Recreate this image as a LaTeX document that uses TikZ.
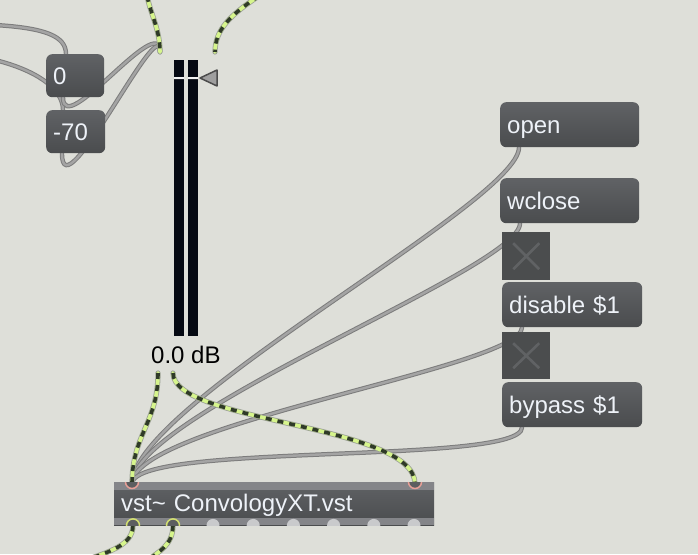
\documentclass[tikz,border=0pt]{standalone}
\usepackage{fontspec}
\usepackage{tikz}
\newfontfamily\maxfont{Liberation Sans}
\usetikzlibrary{calc}
\usetikzlibrary{backgrounds}
\definecolor{bgcol}{HTML}{DEDFD9}
\definecolor{boxtop}{HTML}{606265}
\definecolor{boxbot}{HTML}{4A4C4E}
\definecolor{boxtext}{HTML}{EEF2F8}
\definecolor{togfill}{HTML}{4B4D4E}
\definecolor{togx}{HTML}{606264}
\definecolor{meterblack}{HTML}{060A13}
\definecolor{trimcol}{HTML}{F2F2F2}
\definecolor{vstmid}{HTML}{4A4C4C}
\definecolor{vststrip}{HTML}{848589}
\definecolor{inpink}{HTML}{E8A097}
\definecolor{outlime}{HTML}{D3E070}
\definecolor{outgray}{HTML}{C9CACC}
\definecolor{portfill}{HTML}{5C5E60}
\definecolor{cordfill}{HTML}{A4A4A4}
\definecolor{cordedge}{HTML}{7C7C7C}
\definecolor{siglime}{HTML}{D6F58C}
\definecolor{sigdark}{HTML}{2F3A28}
\definecolor{sigedge}{HTML}{9CA294}
\newcommand\boxfont{\maxfont\fontsize{24}{28}\selectfont}
\tikzset{msgbox/.style = {anchor=north west, rounded corners=6, top color=boxtop, bottom color=boxbot,
                          text=boxtext, font=\boxfont, inner xsep=7, inner ysep=0, minimum height=45,
                          text height=20, text depth=3, align=left, text width=#1}}
\tikzset{togbox/.style = {anchor=north west, fill=togfill, minimum width=48, minimum height=48, inner sep=0,
                          path picture={\draw [togx, line width=2.6]
                              ($(path picture bounding box.north west) + (11, 11)$) -- ($(path picture bounding box.south east) + (-11, -11)$)
                              ($(path picture bounding box.north east) + (-11, 11)$) -- ($(path picture bounding box.south west) + (11, -11)$);}}}
\tikzset{bar/.style = {anchor=north west, fill=meterblack, minimum width=10, minimum height=276, inner sep=0}}
\tikzset{cord/.style = {draw=cordedge, line width=4.4, line cap=round, postaction={draw=cordfill, line width=2.4}}}
\tikzset{sigcord/.style = {draw=sigedge, line width=5.2, line cap=round,
                           postaction={draw=siglime, line width=3.6},
                           postaction={draw=sigdark, line width=3.6, line cap=butt, dash pattern=on 6 off 6}}}

\begin{document}
\begin{tikzpicture}[x=1pt, y=-1pt]
    \useasboundingbox (0, 0) rectangle (698, 554);

    % number boxes and gain meter
    \node [msgbox=44, minimum height=43] (zero) at (46, 54) {0};
    \node [msgbox=45, minimum height=43] (minus) at (46, 110) {-70};
    \node [bar] (barleft) at (174, 60) {};
    \node [bar] (barright) at (188, 60) {};
    \fill [trimcol] (174, 77) rectangle (184, 79) (188, 77) rectangle (198, 79);
    \filldraw [fill=gray!75, draw=black!70, line width=1.5, line join=round] (200, 78) -- (217, 70) -- (217, 86) -- cycle;
    \node [anchor=base west, inner sep=0, font=\boxfont, text=black] (dblabel) at (151, 363) {0.0 dB};

    % messages and toggles
    \node [msgbox=125] (open) at (500, 102) {open};
    \node [msgbox=125] (wclose) at (500, 178) {wclose};
    \node [togbox] (togdis) at (502, 232) {};
    \node [msgbox=126] (disable) at (502, 282) {disable \$1};
    \node [togbox, minimum height=47] (togbyp) at (502, 332) {};
    \node [msgbox=126] (bypass) at (502, 382) {bypass \$1};

    % the plugin object
    \node [msgbox=306, rounded corners=0, fill=vstmid, minimum height=43, text height=18] (vst) at (114, 482) {vst\textasciitilde{} ConvologyXT.vst};
    \fill [vststrip] (vst.north west) rectangle ($(vst.north east) + (0, 8)$);
    \fill [vststrip] ($(vst.south west) + (0, -7)$) rectangle (vst.south east);
    \begin{scope}
        \clip (vst.north west) rectangle (vst.south east);
        \filldraw [fill=portfill, draw=inpink, line width=1.5] ($(vst.north west) + (18, 0)$) circle (6.5);
        \filldraw [fill=portfill, draw=inpink, line width=1.5] ($(vst.north west) + (301, 0)$) circle (6.5);
        \filldraw [fill=portfill, draw=outlime, line width=1.5] ($(vst.south west) + (19, 0)$) circle (6.5);
        \filldraw [fill=portfill, draw=outlime, line width=1.5] ($(vst.south west) + (59, 0)$) circle (6.5);
        \foreach \k in {0, ..., 5}
            \fill [outgray] ($(vst.south west) + (99 + 40.2 * \k, 0)$) circle (6.5);
    \end{scope}

    % inlets and outlets
    \coordinate (zeroin) at ($(zero.north west) + (20, 0)$);
    \coordinate (zeroout) at ($(zero.south west) + (17, 0)$);
    \coordinate (minusin) at ($(minus.north west) + (17, 0)$);
    \coordinate (minusout) at ($(minus.south west) + (16, 0)$);
    \coordinate (gainin) at ($(barleft.north west) + (-14, -8)$);
    \coordinate (gainright) at ($(barleft.north west) + (41, -8)$);
    \coordinate (gainout) at ($(dblabel.base west) + (7, 10)$);
    \coordinate (gainoutr) at ($(dblabel.base west) + (22, 10)$);
    \coordinate (openout) at ($(open.south west) + (19, 0)$);
    \coordinate (wcloseout) at ($(wclose.south west) + (20, 0)$);
    \coordinate (disableout) at ($(disable.south west) + (20, 0)$);
    \coordinate (bypassout) at ($(bypass.south west) + (20, 0)$);
    \coordinate (vstin) at ($(vst.north west) + (18, 2)$);
    \coordinate (vstinr) at ($(vst.north west) + (301, 2)$);
    \coordinate (vstout) at ($(vst.south west) + (19, 0)$);
    \coordinate (vstoutr) at ($(vst.south west) + (59, 0)$);
    \coordinate (leftfree) at (-5, 25);
    \coordinate (leftfreeb) at (-5, 60);
    \coordinate (topfree) at (147, -4);
    \coordinate (topfreer) at (259, -4);
    \coordinate (botfree) at (86, 560);
    \coordinate (botfreer) at (148, 560);

    \begin{pgfonlayer}{background}
        \fill [bgcol] (0, 0) rectangle (698, 554);
        \clip (0, 0) rectangle (698, 554);

        \draw [cord] (leftfree) .. controls (45, 28) and (66, 36) .. (zeroin);
        \draw [cord] (leftfreeb) .. controls (35, 70) and (63, 88) .. (minusin);
        \draw [cord] (zeroout) .. controls +(0, 43) and +(0, -42) .. (gainin);
        \draw [cord] (minusout) .. controls +(0, 62) and +(0, -42) .. (gainin);

        \draw [cord] (openout) .. controls +(0, 55) and +(0, -80) .. (vstin);
        \draw [cord] (wcloseout) .. controls +(0, 45) and +(0, -70) .. (vstin);
        \draw [cord] (disableout) .. controls +(0, 40) and +(0, -60) .. (vstin);
        \draw [cord] (bypassout) .. controls +(0, 38) and +(0, -42) .. (vstin);

        \draw [sigcord] (topfree) .. controls (151, 15) and (160, 30) .. (gainin);
        \draw [sigcord] (topfreer) .. controls (230, 15) and (215, 30) .. (gainright);
        \draw [sigcord] (gainout) .. controls +(0, 50) and +(0, -50) .. (vstin);
        \draw [sigcord] (gainoutr) .. controls +(0, 50) and +(0, -60) .. (vstinr);
        \draw [sigcord] (vstout) .. controls +(0, 20) and +(22, -8) .. (botfree);
        \draw [sigcord] (vstoutr) .. controls +(0, 20) and +(10, -8) .. (botfreer);
    \end{pgfonlayer}
\end{tikzpicture}
\end{document}
